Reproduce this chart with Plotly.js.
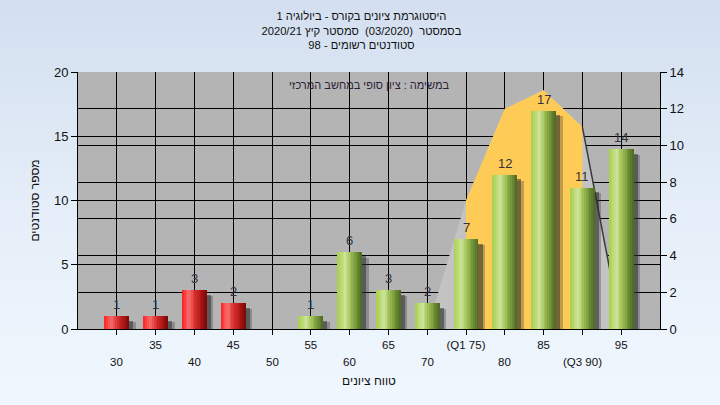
<!DOCTYPE html>
<html>
<head>
<meta charset="utf-8">
<script src="https://cdn.plot.ly/plotly-3.0.1.min.js"></script>
<style>
  html, body { margin:0; padding:0; }
  body { width:720px; height:405px; background: linear-gradient(to bottom, #D3DFF0 0%, #E6EFF9 55%, #F0F7FE 100%); }
  #chart { width:720px; height:405px; }
</style>
</head>
<body>
<div id="chart"></div>
<script>
// ---- data ----
const grades = [30, 35, 40, 45, 50, 55, 60, 65, 70, 75, 80, 85, 90, 95];
const counts = [1, 1, 3, 2, 0, 1, 6, 3, 2, 7, 12, 17, 11, 14];
const tickLabels = ['30', '35', '40', '45', '50', '55', '60', '65', '70', '(Q1 75)', '80', '85', '(Q3 90)', '95'];
const passMark = 55;
const curveX = [70, 75, 80, 85, 90, 95];
const curveY = [0, 7, 12, 13, 11, 0];
const iqrX = [75, 80, 85, 90];
const iqrY = [7, 12, 13, 11];
const titleLines = ['היסטוגרמת ציונים בקורס - ביולוגיה 1', 'בסמסטר  (03/2020)  סמסטר קיץ 2020/21', 'סטודנטים רשומים - 98'];
const noteText = 'במשימה : ציון סופי במחשב המרכזי';
const xTitle = 'טווח ציונים';
const yTitle = 'מספר סטודנטים';

// ---- styles ----
const FONT = '"Liberation Sans", Arial, sans-serif';
const redStops = [[0, [255, 32, 32]], [0.28, [245, 112, 112]], [0.5, [220, 50, 50]], [0.75, [176, 24, 24]], [1, [118, 8, 8]]];
const greenStops = [[0, [166, 207, 74]], [0.32, [205, 228, 152]], [0.55, [156, 190, 80]], [0.8, [108, 140, 52]], [1, [76, 104, 32]]];
function lerp(stops, t) {
  for (let i = 0; i < stops.length - 1; i++) {
    const [t0, c0] = stops[i], [t1, c1] = stops[i + 1];
    if (t >= t0 && t <= t1) {
      const f = (t - t0) / (t1 - t0);
      return 'rgb(' + c0.map((v, k) => Math.round(v + (c1[k] - v) * f)).join(',') + ')';
    }
  }
  return 'rgb(' + stops[stops.length - 1][1].join(',') + ')';
}

const W = 3.2, N = 14;
const traces = [];

// normal-curve area (right axis 'y', drawn underneath)
traces.push({ type: 'scatter', mode: 'lines', x: curveX, y: curveY, fill: 'tozeroy',
  fillcolor: '#C3C3C3', line: { width: 0, color: '#C3C3C3' }, yaxis: 'y', hoverinfo: 'skip' });
traces.push({ type: 'scatter', mode: 'lines', x: iqrX, y: iqrY, fill: 'tozeroy',
  fillcolor: '#FFCB57', line: { width: 0, color: '#FFCB57' }, yaxis: 'y', hoverinfo: 'skip' });
traces.push({ type: 'scatter', mode: 'lines', x: curveX.slice(-2), y: curveY.slice(-2),
  line: { width: 1.5, color: '#3a3a3a' }, yaxis: 'y', hoverinfo: 'skip' });

// shadows (left axis 'y2')
traces.push({ type: 'bar', x: grades, y: counts.map(v => Math.max(0, v - 0.45)), yaxis: 'y2',
  width: W, offset: -W / 2 + 0.85, marker: { color: 'rgba(50,50,50,0.3)', line: { width: 0 } }, hoverinfo: 'skip' });
traces.push({ type: 'bar', x: grades, y: counts.map(v => Math.max(0, v - 0.35)), yaxis: 'y2',
  width: W, offset: -W / 2 + 0.55, marker: { color: 'rgba(40,40,40,0.5)', line: { width: 0 } }, hoverinfo: 'skip' });

// bars with cylinder gradient
for (let i = 0; i < N; i++) {
  const t = (i + 0.5) / N;
  traces.push({ type: 'bar', x: grades, y: counts, yaxis: 'y2',
    width: i === N - 1 ? W / N : W / N * 1.2, offset: -W / 2 + i * W / N,
    marker: { color: grades.map(g => g < passMark ? lerp(redStops, t) : lerp(greenStops, t)), line: { width: 0 } },
    hoverinfo: 'skip' });
}

// staggered tick labels: odd positions on the axis, even positions on a second row
const tickText = tickLabels.map((s, i) => i % 2 === 0 ? '' : s);

const annotations = [];
grades.forEach((g, i) => {
  if (i % 2 === 0) annotations.push({ x: g, y: -0.128, xref: 'x', yref: 'paper', text: tickLabels[i],
    showarrow: false, yanchor: 'middle', font: { family: FONT, size: 11.5, color: '#111' } });
  if (counts[i] > 0) annotations.push({ x: g, y: counts[i], xref: 'x', yref: 'y2', text: String(counts[i]),
    showarrow: false, yanchor: 'bottom', yshift: 2, font: { family: FONT, size: 13, color: '#33333f' } });
});
annotations.push({ x: 0.5, y: 0.949, xref: 'paper', yref: 'paper', text: noteText, showarrow: false,
  xanchor: 'center', yanchor: 'middle', font: { family: FONT, size: 11, color: '#2a2238' } });

const axisCommon = { showline: true, linecolor: '#000', linewidth: 1, ticks: 'outside', tickcolor: '#000',
  showgrid: true, gridcolor: '#000', gridwidth: 1, zeroline: false, fixedrange: true };

const layout = {
  width: 720, height: 405,
  margin: { l: 78, r: 60, t: 72, b: 76, pad: 0 },
  paper_bgcolor: 'rgba(0,0,0,0)', plot_bgcolor: '#B4B4B4',
  barmode: 'overlay', showlegend: false, bargap: 0,
  font: { family: FONT, color: '#111' },
  title: { text: titleLines.join('<br>'), xref: 'container', x: 0.502, xanchor: 'center',
    yref: 'container', y: 1 - 20 / 405, yanchor: 'top', font: { family: FONT, size: 11.2, color: '#111' } },
  xaxis: Object.assign({}, axisCommon, { range: [25, 100], tickmode: 'array', tickvals: grades, ticktext: tickText,
    ticklen: 5, tickfont: { family: FONT, size: 11.5, color: '#111' },
    title: { text: xTitle, font: { family: FONT, size: 12, color: '#111' }, standoff: 26 } }),
  yaxis: Object.assign({}, axisCommon, { range: [0, 14], dtick: 2, side: 'right', ticklen: 6,
    tickfont: { family: FONT, size: 13, color: '#111' } }),
  yaxis2: Object.assign({}, axisCommon, { range: [0, 20], dtick: 5, side: 'left', overlaying: 'y', ticklen: 6,
    tickfont: { family: FONT, size: 13, color: '#111' },
    title: { text: yTitle, font: { family: FONT, size: 12, color: '#111' }, standoff: 11 } }),
  annotations: annotations
};

Plotly.newPlot('chart', traces, layout, { staticPlot: true, displayModeBar: false });
</script>
</body>
</html>
